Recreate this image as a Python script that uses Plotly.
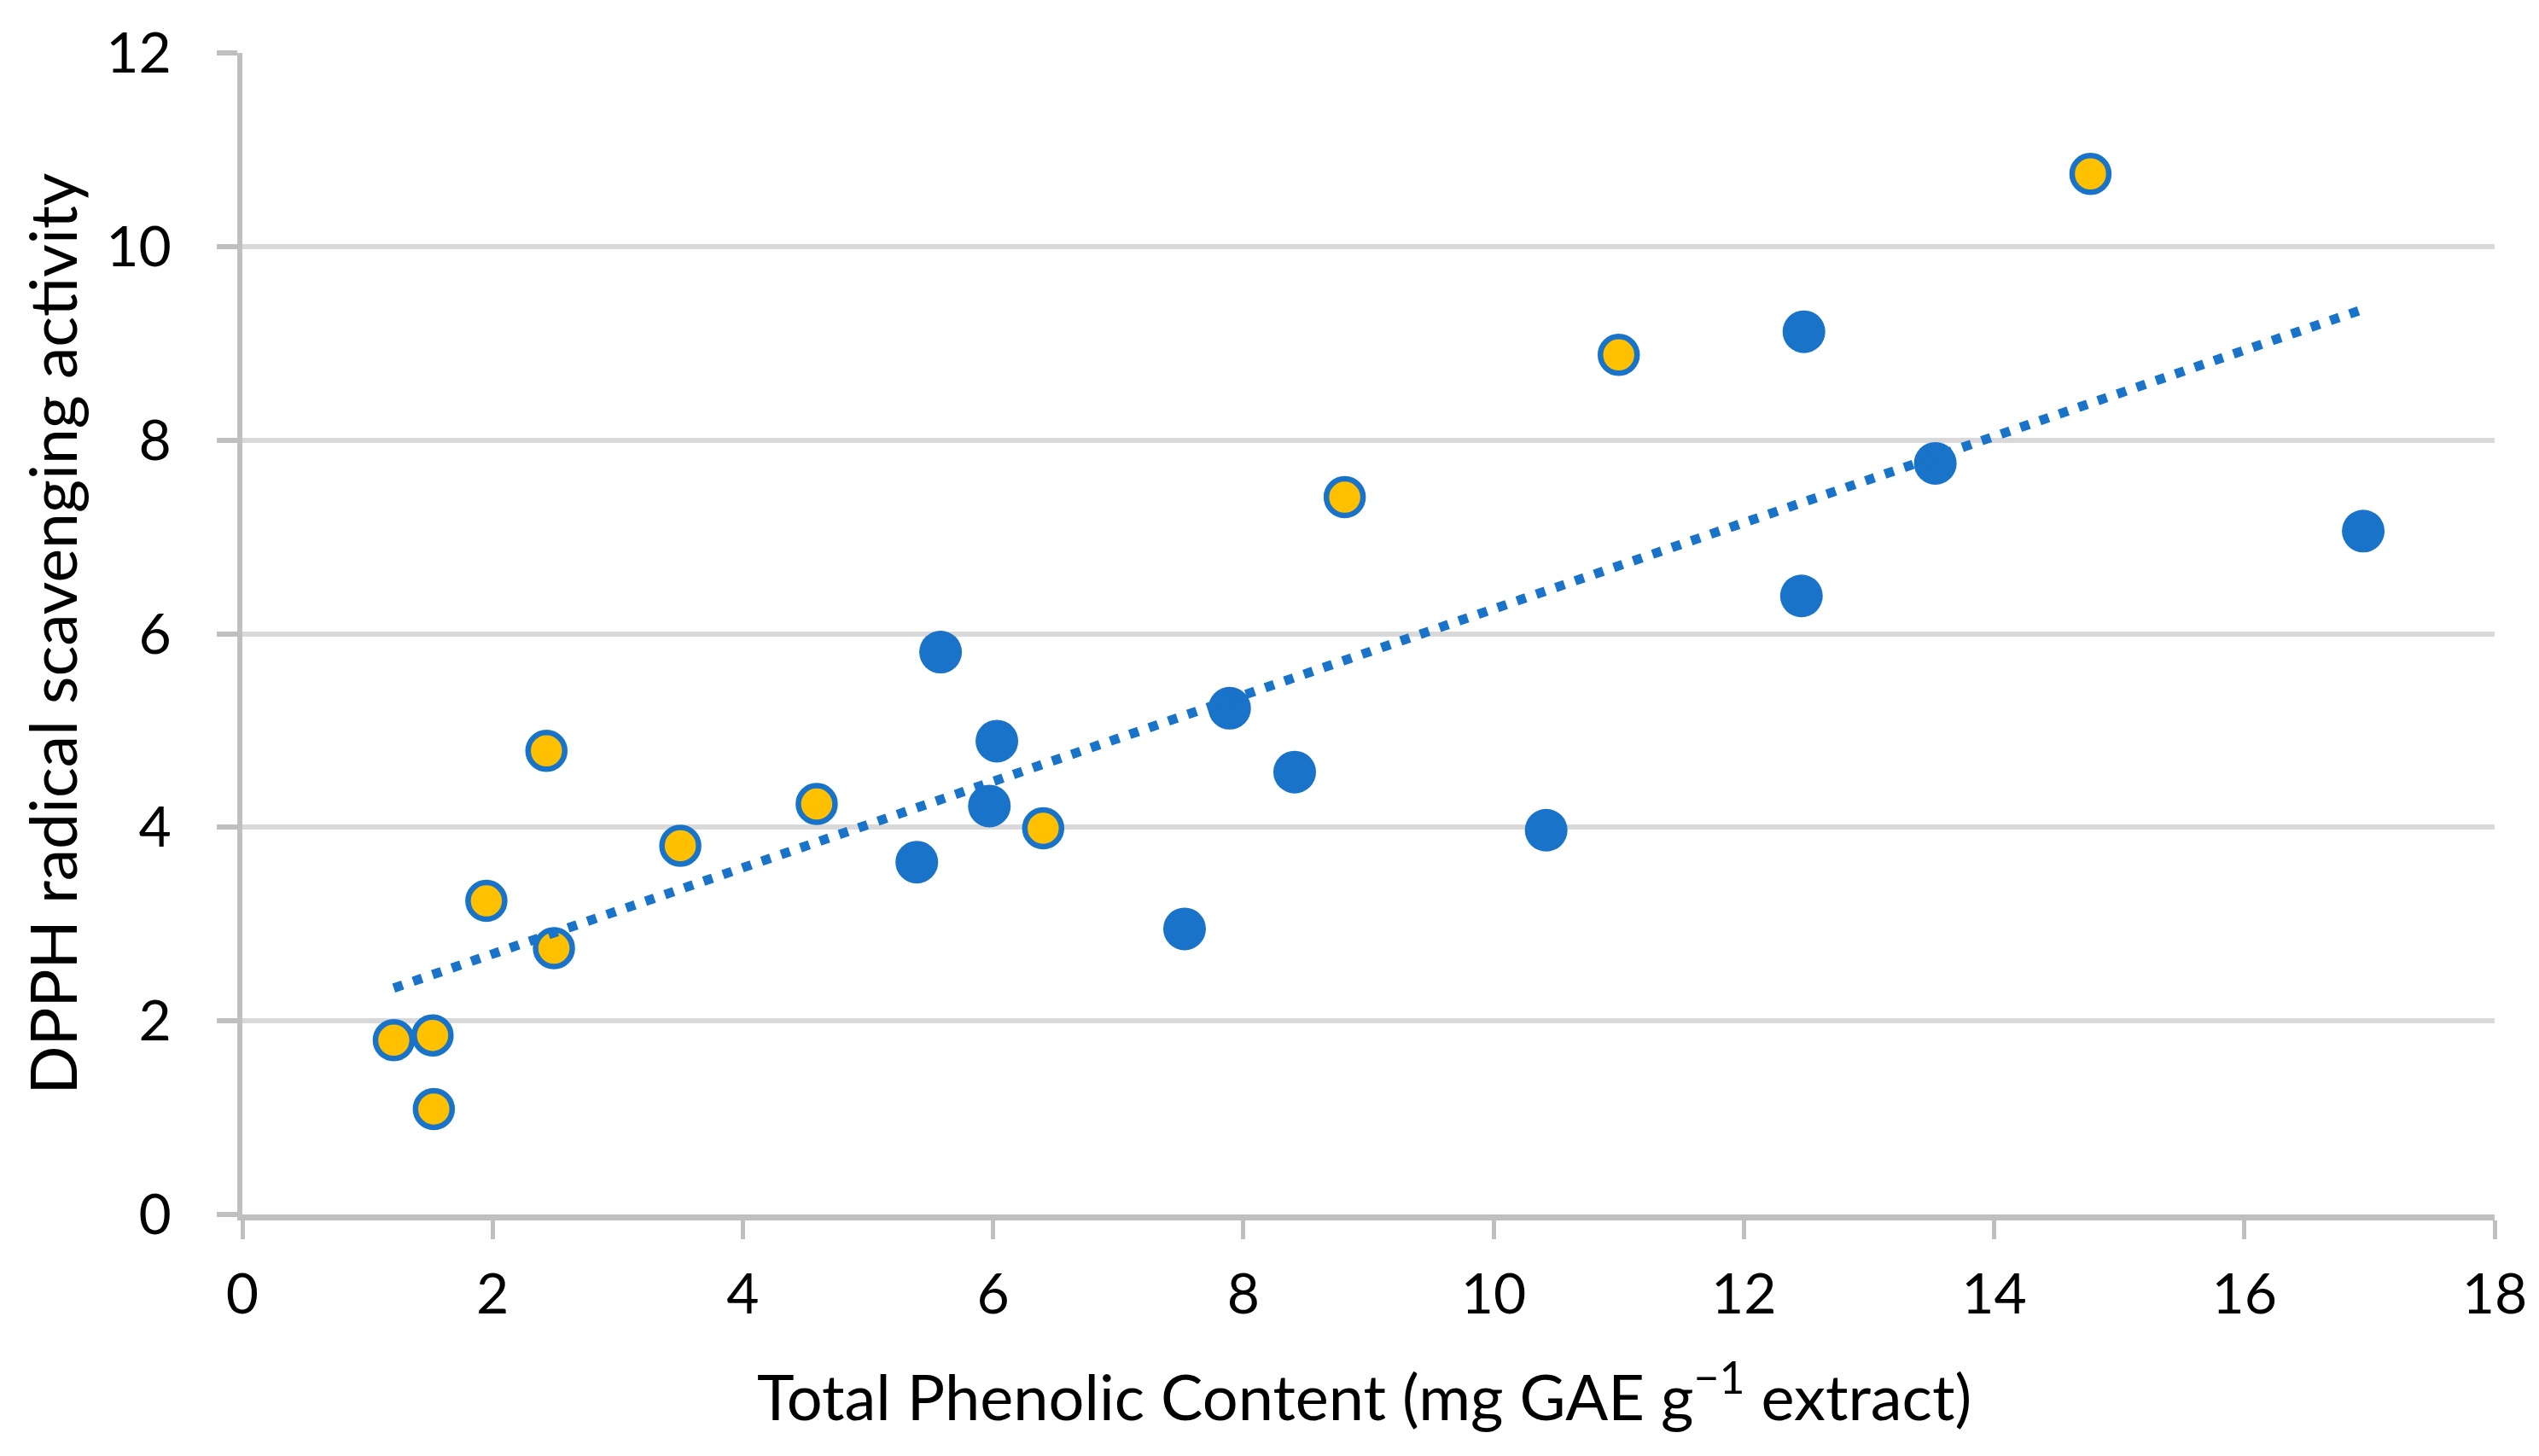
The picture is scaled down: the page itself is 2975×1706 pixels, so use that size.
import numpy as np
import plotly.graph_objects as go

# Yellow-filled series (blue outline)
yellow_x = [1.21, 1.52, 1.53, 1.95, 2.43, 2.49, 3.50, 4.59, 6.40, 8.81, 11.00, 14.77]
yellow_y = [1.80, 1.85, 1.09, 3.24, 4.79, 2.75, 3.81, 4.24, 3.99, 7.41, 8.88, 10.75]

# Solid blue series
blue_x = [5.39, 5.58, 6.03, 5.97, 7.53, 7.89, 8.41, 10.42, 12.46, 12.48, 13.53, 16.95]
blue_y = [3.64, 5.81, 4.89, 4.22, 2.95, 5.23, 4.57, 3.97, 6.39, 9.12, 7.76, 7.06]

x_ticks = [0, 2, 4, 6, 8, 10, 12, 14, 16, 18]
y_ticks = [0, 2, 4, 6, 8, 10, 12]

BLUE = "#1873C9"
YELLOW = "#FFC000"
FONT = "Lato"

# Linear trendline over all points
all_x = np.array(yellow_x + blue_x)
all_y = np.array(yellow_y + blue_y)
slope, intercept = np.polyfit(all_x, all_y, 1)
tx = np.array([all_x.min(), all_x.max()])
ty = slope * tx + intercept

fig = go.Figure()
fig.add_trace(go.Scatter(
    x=blue_x, y=blue_y, mode="markers",
    marker=dict(size=50, color=BLUE, line=dict(width=0)),
    hoverinfo="skip", showlegend=False))
fig.add_trace(go.Scatter(
    x=yellow_x, y=yellow_y, mode="markers",
    marker=dict(size=43, color=YELLOW, line=dict(width=6.5, color=BLUE)),
    hoverinfo="skip", showlegend=False))
fig.add_trace(go.Scatter(
    x=tx, y=ty, mode="lines",
    line=dict(color=BLUE, width=11, dash="11px,13px"),
    hoverinfo="skip", showlegend=False))

M_L, M_R, M_T, M_B = 276, 60, 52, 291
PLOT_H = 1706 - M_T - M_B
PLOT_W = 2975 - M_L - M_R

fig.update_layout(
    width=2975, height=1706,
    margin=dict(l=M_L, r=M_R, t=M_T, b=M_B),
    paper_bgcolor="white", plot_bgcolor="white",
    font=dict(family=FONT, color="black", size=64),
    xaxis=dict(
        range=[0, 18], tickvals=x_ticks, ticktext=[str(v) for v in x_ticks],
        showgrid=False, zeroline=False,
        showline=True, linecolor="#BFBFBF", linewidth=7,
        ticks="outside", ticklen=22, tickwidth=5, tickcolor="#BFBFBF",
        tickfont=dict(family=FONT, size=66, color="black"),
        ticklabelstandoff=8,
    ),
    yaxis=dict(
        range=[0, 12], tickvals=y_ticks, ticktext=[str(v) for v in y_ticks],
        showgrid=True, gridcolor="#D9D9D9", gridwidth=6, zeroline=False,
        showline=True, linecolor="#BFBFBF", linewidth=6,
        ticks="outside", ticklen=24, tickwidth=6, tickcolor="#BFBFBF",
        tickfont=dict(family=FONT, size=66, color="black"),
        ticklabelstandoff=40,
    ),
    annotations=[
        dict(text="Total Phenolic Content (mg GAE g<sup>\u22121</sup> extract)",
             xref="paper", yref="paper", x=(1590 - M_L) / PLOT_W, y=-208 / PLOT_H,
             xanchor="center", yanchor="middle", showarrow=False,
             font=dict(family=FONT, size=74, color="black")),
        dict(text="DPPH radical scavenging activity",
             xref="paper", yref="paper", x=(52 - M_L) / PLOT_W, y=0.5,
             xanchor="center", yanchor="middle", textangle=-90, showarrow=False,
             font=dict(family=FONT, size=75, color="black")),
    ],
)

fig.write_html("out.html")
